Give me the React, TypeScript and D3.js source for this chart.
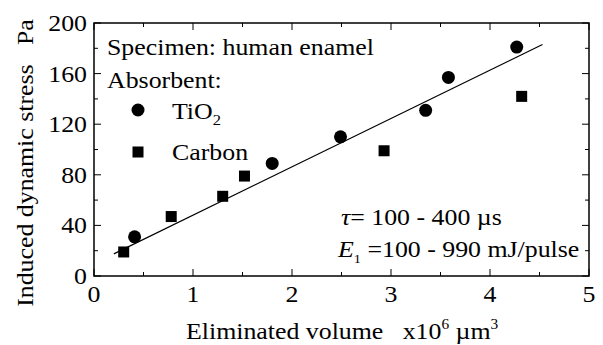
import * as d3 from "d3";
import React, { useEffect, useRef } from "react";

const tio2X = [0.41, 1.8, 2.49, 3.35, 3.58, 4.27];
const tio2Y = [31, 89, 110, 131, 157, 181];
const carbonX = [0.3, 0.78, 1.3, 1.52, 2.93, 4.32];
const carbonY = [19, 47, 63, 79, 99, 142];
const fitX = [0.2, 4.53];
const fitY = [17.5, 183];
const xTicks = [0, 1, 2, 3, 4, 5];
const yTicks = [0, 40, 80, 120, 160, 200];

const App = () => {
  const svgRef = useRef(null);

  useEffect(() => {
    const svg = d3.select(svgRef.current);
    svg.selectAll("*").remove();
    const font = "Liberation Serif, DejaVu Serif, serif";
    const fs = 23.5;
    const sx = 1.1; // reference glyphs are a bit wide

    const x = d3.scaleLinear().domain([0, 5]).range([94, 589]);
    const y = d3.scaleLinear().domain([0, 200]).range([276, 23]);

    svg.style("font-family", font).style("font-size", fs + "px");

    // frame
    svg
      .append("rect")
      .attr("x", 94)
      .attr("y", 23)
      .attr("width", 495)
      .attr("height", 253)
      .attr("fill", "none")
      .attr("stroke", "#000")
      .attr("stroke-width", 1.5);

    // ticks (inward, all four sides)
    const xMinor = d3.range(0, 5.01, 0.5);
    const yMinor = d3.range(0, 200.1, 20);
    xMinor.forEach((v, i) => {
      const len = i % 2 === 0 ? 7 : 4;
      svg.append("line").attr("x1", x(v)).attr("x2", x(v)).attr("y1", 276).attr("y2", 276 - len).attr("stroke", "#000");
      svg.append("line").attr("x1", x(v)).attr("x2", x(v)).attr("y1", 23).attr("y2", 23 + len).attr("stroke", "#000");
    });
    yMinor.forEach((v, i) => {
      const len = i % 2 === 0 ? 7 : 4;
      svg.append("line").attr("y1", y(v)).attr("y2", y(v)).attr("x1", 94).attr("x2", 94 + len).attr("stroke", "#000");
      svg.append("line").attr("y1", y(v)).attr("y2", y(v)).attr("x1", 589).attr("x2", 589 - len).attr("stroke", "#000");
    });

    // text helper: places text at (tx,ty) stretched horizontally
    const txt = (tx, ty, s, anchor = "start") =>
      svg
        .append("text")
        .attr("transform", `translate(${tx},${ty}) scale(${sx},1)`)
        .attr("text-anchor", anchor)
        .style("white-space", "pre")
        .text(s);

    // tick labels
    xTicks.forEach((d) => txt(x(d), 302, d, "middle"));
    yTicks.forEach((d) => txt(87, y(d) + 8, d, "end"));

    // fit line
    svg
      .append("line")
      .attr("x1", x(fitX[0]))
      .attr("y1", y(fitY[0]))
      .attr("x2", x(fitX[1]))
      .attr("y2", y(fitY[1]))
      .attr("stroke", "#000")
      .attr("stroke-width", 1.2);

    // markers
    svg
      .selectAll(".c")
      .data(tio2X)
      .enter()
      .append("circle")
      .attr("cx", (d) => x(d))
      .attr("cy", (d, i) => y(tio2Y[i]))
      .attr("r", 6.5)
      .attr("fill", "#000");

    svg
      .selectAll(".s")
      .data(carbonX)
      .enter()
      .append("rect")
      .attr("x", (d) => x(d) - 5.5)
      .attr("y", (d, i) => y(carbonY[i]) - 5.5)
      .attr("width", 11)
      .attr("height", 11)
      .attr("fill", "#000");

    // legend
    txt(107, 55, "Specimen: human enamel");
    txt(107, 88, "Absorbent:");
    svg.append("circle").attr("cx", 138).attr("cy", 110).attr("r", 6.5).attr("fill", "#000");
    const t1 = txt(172, 119, "TiO");
    t1.append("tspan").attr("dy", 6).style("font-size", "15px").text("2");
    svg.append("rect").attr("x", 132.5).attr("y", 146.5).attr("width", 11).attr("height", 11).attr("fill", "#000");
    txt(172, 160, "Carbon");

    // annotations
    const a1 = txt(341, 225, "");
    a1.append("tspan").style("font-style", "italic").text("\u03c4");
    a1.append("tspan").text("= 100 - 400 \u00b5s");
    const a2 = txt(338, 257, "");
    a2.append("tspan").style("font-style", "italic").text("E");
    a2.append("tspan").attr("dy", 6).style("font-size", "13px").text("1");
    a2.append("tspan").attr("dy", -6).text(" =100 - 990 mJ/pulse");

    // axis titles
    const xl = txt(186, 339, "Eliminated volume   x10");
    xl.append("tspan").attr("dy", -10).style("font-size", "14px").text("6");
    xl.append("tspan").attr("dy", 10).text(" \u00b5m");
    xl.append("tspan").attr("dy", -10).style("font-size", "14px").text("3");

    svg
      .append("text")
      .attr("transform", `translate(33,163) rotate(-90) scale(${sx},1)`)
      .attr("text-anchor", "middle")
      .style("white-space", "pre")
      .text("Induced dynamic stress   Pa");
  }, []);

  return (
    <svg
      ref={svgRef}
      width="603"
      height="345"
      style={{ position: "absolute", left: 0, top: 0, background: "#fff" }}
    ></svg>
  );
};

export default App;
